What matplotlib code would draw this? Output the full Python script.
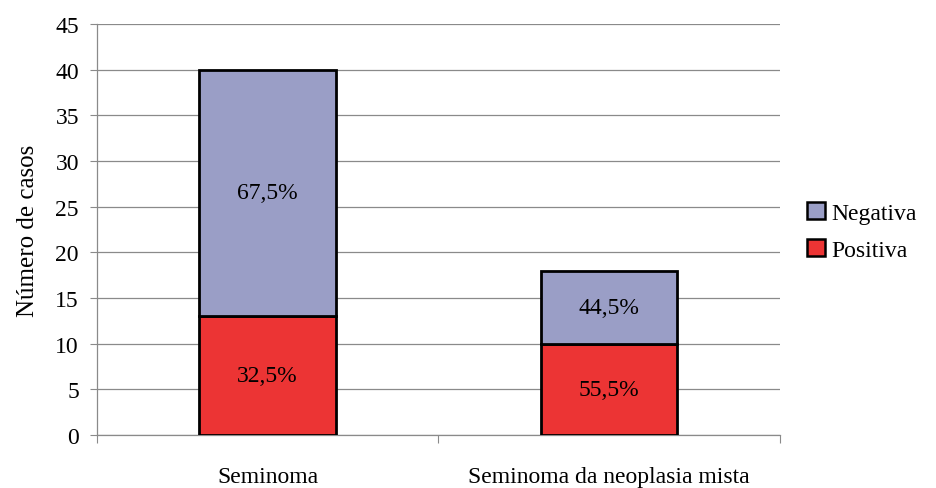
import matplotlib
matplotlib.use("Agg")
import matplotlib.pyplot as plt
from matplotlib.patches import Patch

categories = ["Seminoma", "Seminoma da neoplasia mista"]
positiva = [13, 10]
negativa = [27, 8]
pct_positiva = ["32,5%", "55,5%"]
pct_negativa = ["67,5%", "44,5%"]
y_ticks = [0, 5, 10, 15, 20, 25, 30, 35, 40, 45]

plt.rcParams["font.family"] = ["Liberation Serif", "DejaVu Serif"]

fig = plt.figure(figsize=(9.36, 4.89), dpi=100)
ax = fig.add_axes([0.1036, 0.1084, 0.7294, 0.8406])

red = "#ec3434"
blue = "#9a9ec6"
x = list(range(len(categories)))
w = 0.4

ax.bar(x, positiva, width=w, color=red, edgecolor="black", linewidth=2.0, zorder=3)
ax.bar(x, negativa, width=w, bottom=positiva, color=blue, edgecolor="black",
       linewidth=2.0, zorder=3)

for i in x:
    ax.text(i, positiva[i] / 2, pct_positiva[i], ha="center", va="center",
            fontsize=17, zorder=4)
    ax.text(i, positiva[i] + negativa[i] / 2, pct_negativa[i], ha="center",
            va="center", fontsize=17, zorder=4)

ax.set_xlim(-0.5, len(categories) - 0.5)
ax.set_ylim(0, 45)
ax.set_yticks(y_ticks)
ax.set_yticklabels([str(v) for v in y_ticks], fontsize=17)
ax.yaxis.grid(True, color="#8a8a8a", linewidth=0.9, zorder=0)
ax.set_axisbelow(True)

ax.set_xticks([i - 0.5 for i in range(len(categories) + 1)], minor=False)
ax.set_xticklabels([])
ax.set_xticks(x, minor=True)
ax.set_xticklabels(categories, minor=True, fontsize=17)
ax.tick_params(axis="x", which="minor", length=0, pad=22)
ax.tick_params(axis="x", which="major", length=6, color="#8a8a8a")
ax.tick_params(axis="y", length=5, color="#8a8a8a", pad=8)

for s in ["top", "right"]:
    ax.spines[s].set_visible(False)
for s in ["left", "bottom"]:
    ax.spines[s].set_color("#8a8a8a")
    ax.spines[s].set_linewidth(0.9)

ax.set_ylabel("Número de casos", fontsize=18, labelpad=12)

handles = [Patch(facecolor=blue, edgecolor="black", linewidth=1.8, label="Negativa"),
           Patch(facecolor=red, edgecolor="black", linewidth=1.8, label="Positiva")]
fig.legend(handles=handles, loc="center left", bbox_to_anchor=(0.84, 0.525),
           frameon=False, fontsize=17, handlelength=0.75, handleheight=0.75,
           handletextpad=0.25, labelspacing=0.65)

fig.savefig("out.png", dpi=100, facecolor="white")
